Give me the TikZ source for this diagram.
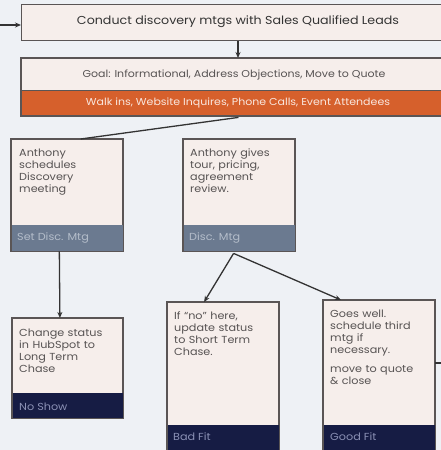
\documentclass[tikz,border=0pt]{standalone}
\usepackage{fontspec}
\setmainfont{Poppins}[FakeStretch=1.1]
\usetikzlibrary{calc,arrows.meta}
\definecolor{bgc}{HTML}{EEF1F5}
\definecolor{cardfill}{HTML}{F6EEEB}
\definecolor{edge}{HTML}{5A5555}
\definecolor{txt}{HTML}{575353}
\definecolor{orangeband}{HTML}{D6602C}
\definecolor{slateband}{HTML}{6B7A90}
\definecolor{navyband}{HTML}{161C44}
\definecolor{slatetxt}{HTML}{B4BDCA}
\definecolor{navytxt}{HTML}{8A90B4}
\begin{document}
\begin{tikzpicture}[x=1pt,y=-1pt,
  card/.style={draw=edge,line width=1.4pt,fill=cardfill,rectangle,inner sep=0pt,anchor=north west},
  cardtext/.style={text=txt,font=\fontsize{10.2}{12}\selectfont,align=left,anchor=north west,inner sep=0pt,text width=105pt},
  bandtext/.style={font=\fontsize{10.2}{11}\selectfont,anchor=west,inner sep=0pt},
  conn/.style={draw=black!80,line width=1.3pt},
  tip/.style={-{Stealth[length=6pt,width=5pt]}}
]
\useasboundingbox (0,0) rectangle (441,450);
\fill[bgc] (0,0) rectangle (441,450);
\begin{scope}
\clip (0,0) rectangle (441,450);

% heading box
\node[card,minimum width=425pt,minimum height=36pt] (head) at (21,4) {};
\node[text=black!80,font=\fontsize{11.5}{13}\selectfont] (headtxt) at (238,22) {Conduct discovery mtgs with Sales Qualified Leads};
\coordinate (feed) at (0,25);
\draw[conn,tip] (feed) -- (feed -| head.west);

% goal box with orange band
\node[card,minimum width=425pt,minimum height=58pt] (goal) at (21,58) {};
\fill[orangeband] (22,91) rectangle (446,115);
\draw[edge,line width=1.4pt] (21,58) rectangle (446,116);
\draw[edge,line width=1.2pt] (21,90.5) -- (446,90.5);
\node[text=txt,font=\fontsize{10}{11}\selectfont] (goaltxt) at (234,75) {Goal: Informational, Address Objections, Move to Quote};
\node[text=white!85!orangeband,font=\fontsize{10}{11}\selectfont] (srctxt) at (238,103) {Walk ins, Website Inquires, Phone Calls, Event Attendees};

% cards: name, x, y, width, height, band top, band colour
\newcommand{\mkcard}[7]{%
  \node[card,minimum width=#4pt,minimum height=#5pt] (#1) at (#2,#3) {};
  \fill[#7] ($(#1.north west)+(0.7,#6)$) rectangle ($(#1.south east)+(-0.7,-0.7)$);
  \draw[edge,line width=1.4pt] (#1.north west) rectangle (#1.south east);
}

\mkcard{sched}{11}{139}{111}{111}{86}{slateband}
\mkcard{tour}{183}{139}{111}{111}{86}{slateband}
\mkcard{noshow}{12}{318}{110}{99}{75}{navyband}
\mkcard{badfit}{167}{302}{111}{160}{123}{navyband}
\mkcard{goodfit}{323}{300}{111}{160}{125}{navyband}

\node[cardtext] (schedtxt) at (19,149) {Anthony\\schedules\\Discovery\\meeting};
\node[bandtext,text=slatetxt] (schedband) at (17,238) {Set Disc. Mtg};

\node[cardtext] (tourtxt) at (190,149) {Anthony gives\\tour, pricing,\\agreement\\review.};
\node[bandtext,text=slatetxt] (tourband) at (189,238) {Disc. Mtg};

\node[cardtext] (noshowtxt) at (19,329) {Change status\\in HubSpot to\\Long Term\\Chase};
\node[bandtext,text=navytxt] (noshowband) at (19,407) {No Show};

\node[cardtext] (badtxt) at (174,312) {If “no” here,\\update status\\to Short Term\\Chase.};
\node[bandtext,text=navytxt] (badband) at (173,437) {Bad Fit};

\node[cardtext] (goodtxt) at (330,310) {Goes well.\\schedule third\\mtg if\\necessary.\\[7pt]move to quote\\\& close};
\node[bandtext,text=navytxt] (goodband) at (330,437) {Good Fit};

% connectors
\draw[conn,tip] (head.south -| headtxt) -- (goal.north -| headtxt);
\draw[conn] ($(goal.south west)!0.51!(goal.south east)$) -- ($(sched.north west)!0.62!(sched.north east)$);
\draw[conn,tip] ($(sched.south west)!0.43!(sched.south east)$) -- ($(noshow.north west)!0.43!(noshow.north east)$);
\coordinate (split) at ($(tour.south west)!0.45!(tour.south east)+(0,2)$);
\draw[conn,tip] (split) -- ($(badfit.north west)!0.33!(badfit.north east)$);
\draw[conn,tip] (split) -- ($(goodfit.north west)!0.16!(goodfit.north east)$);
\coordinate (exit) at (441,363);
\draw[conn] (goodfit.east |- exit) -- (exit);
\end{scope}
\end{tikzpicture}
\end{document}
